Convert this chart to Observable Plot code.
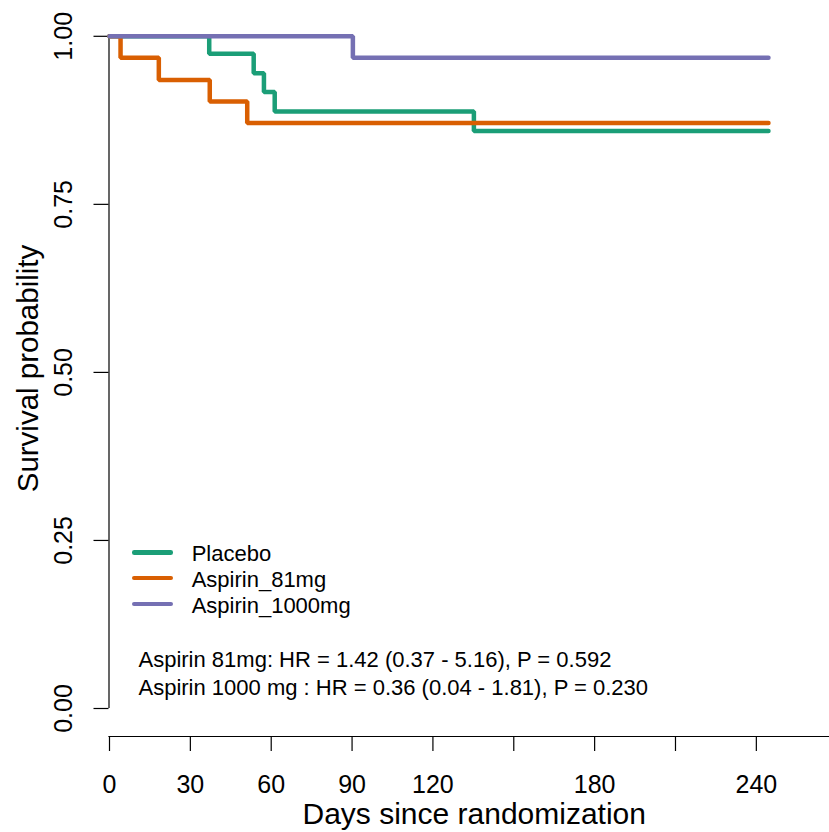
<!DOCTYPE html>
<html>
<head>
<meta charset="utf-8">
<script src="https://cdn.jsdelivr.net/npm/d3@7"></script>
<script src="https://cdn.jsdelivr.net/npm/@observablehq/plot@0.6"></script>
<style>
  html, body { margin: 0; padding: 0; background: #fff; }
  #wrap { position: relative; width: 829px; height: 832px; overflow: hidden; font-family: "Liberation Sans", Arial, sans-serif; }
  #legend { position: absolute; left: 131.7px; top: 539.4px; font-size: 22px; color: #000; }
  .row { display: flex; align-items: center; height: 25.85px; line-height: 25.85px; white-space: nowrap; }
  .sw { width: 41.6px; height: 4.5px; border-radius: 2.25px; margin-right: 18.4px; }
  .lab { position: relative; top: 1.8px; }
</style>
</head>
<body>
<div id="wrap"><div id="legend"></div></div>
<script>
// ---- data ----
const groups = ["Placebo", "Aspirin_81mg", "Aspirin_1000mg"];
const groupColors = ["#1b9e77", "#d95f02", "#7570b3"];

const placeboDays = [0, 37, 53.5, 57.3, 61.3, 135.2, 244.5];
const placeboSurv = [1, 0.974, 0.945, 0.917, 0.888, 0.859, 0.859];

const asp81Days = [0, 4.1, 18.3, 37.2, 51.1, 244.5];
const asp81Surv = [1, 0.968, 0.935, 0.903, 0.871, 0.871];

const asp1000Days = [0, 90.3, 244.5];
const asp1000Surv = [1, 0.968, 0.968];

const xTicks = [0, 30, 60, 90, 120, 150, 180, 210, 240, 270];
const xTickLabels = ["0", "30", "60", "90", "120", "", "180", "", "240", ""];
const yTicks = [0, 0.25, 0.5, 0.75, 1];
const yTickLabels = ["0.00", "0.25", "0.50", "0.75", "1.00"];

const xTitle = "Days since randomization";
const yTitle = "Survival probability";
const statLines = [
  "Aspirin 81mg: HR = 1.42 (0.37 - 5.16), P = 0.592",
  "Aspirin 1000 mg : HR = 0.36 (0.04 - 1.81), P = 0.230"
];

// ---- build table ----
const seriesDays = [placeboDays, asp81Days, asp1000Days];
const seriesSurv = [placeboSurv, asp81Surv, asp1000Surv];
const rows = [];
groups.forEach((g, gi) => {
  seriesDays[gi].forEach((d, i) => rows.push({group: g, day: d, surv: seriesSurv[gi][i]}));
});

const chart = Plot.plot({
  width: 829,
  height: 832,
  marginLeft: 108.5,
  marginRight: 0,
  marginTop: 0,
  marginBottom: 96,
  style: {fontFamily: '"Liberation Sans", Arial, sans-serif', color: "#000", background: "#fff"},
  x: {domain: [0, 270], range: [109, 836.7]},
  y: {domain: [0, 1], range: [708, 35.8]},
  color: {domain: groups, range: groupColors},
  marks: [
    // x axis
    Plot.frame({anchor: "bottom", stroke: "#000", strokeWidth: 1.2}),
    Plot.axisX({ticks: xTicks, tickSize: 15, tickPadding: 24, fontSize: 25, strokeWidth: 1.2,
      tickFormat: d => xTickLabels[xTicks.indexOf(d)], label: null}),
    // y axis
    Plot.ruleX([0], {y1: yTicks[0], y2: yTicks[yTicks.length - 1], dx: -0.5, stroke: "#000", strokeWidth: 1.2}),
    Plot.axisY({ticks: yTicks, tickSize: 15, strokeWidth: 1.2, tickFormat: () => "", label: null}),
    Plot.text(yTicks, {y: d => d, text: (d, i) => yTickLabels[i], frameAnchor: "left", textAnchor: "middle",
      lineAnchor: "middle", dx: -45, rotate: -90, fontSize: 25, fill: "#000"}),
    // titles
    Plot.text([xTitle], {frameAnchor: "bottom", textAnchor: "middle", lineAnchor: "bottom", dx: 5, dy: 87, fontSize: 30, fill: "#000"}),
    Plot.text([yTitle], {frameAnchor: "left", textAnchor: "middle", lineAnchor: "bottom", rotate: -90, dx: -71.5, fontSize: 29.5, fill: "#000"}),
    // survival curves
    Plot.line(rows, {x: "day", y: "surv", z: "group", stroke: "group", curve: "step-after",
      strokeWidth: 4.5, strokeLinecap: "round", strokeLinejoin: "miter"}),
    // statistics text
    Plot.text([statLines.join("\n")], {frameAnchor: "bottom-left", textAnchor: "start", lineAnchor: "bottom",
      lineHeight: 27.3 / 22, dx: 29.5, dy: -42, fontSize: 22, fill: "#000"})
  ]
});

const wrap = document.getElementById("wrap");
wrap.insertBefore(chart, wrap.firstChild);

// legend (inside plot area, as in the reference)
const legend = document.getElementById("legend");
groups.forEach((g, i) => {
  const row = document.createElement("div");
  row.className = "row";
  const sw = document.createElement("span");
  sw.className = "sw";
  sw.style.background = groupColors[i];
  const lab = document.createElement("span");
  lab.className = "lab";
  lab.textContent = g;
  row.appendChild(sw);
  row.appendChild(lab);
  legend.appendChild(row);
});
</script>
</body>
</html>
